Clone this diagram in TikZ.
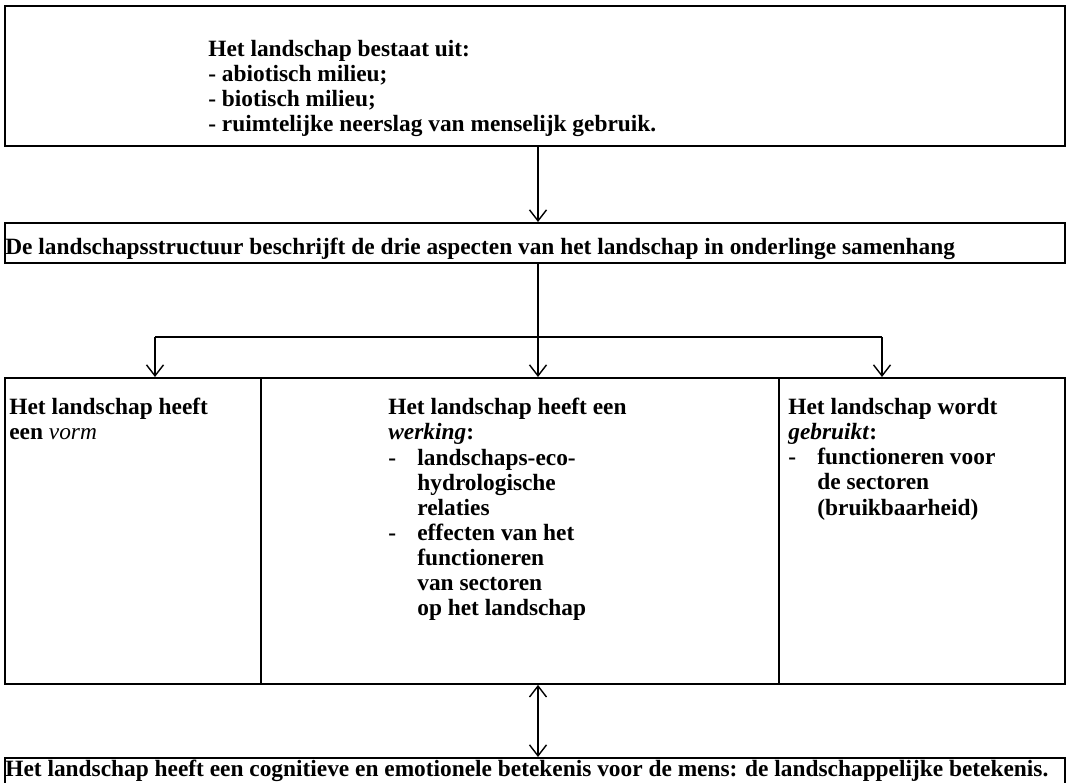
\documentclass[tikz,border=0pt]{standalone}
\usepackage{fontspec}
\setmainfont{Liberation Serif}
\usepackage{tikz}
\usetikzlibrary{arrows.meta, calc, positioning}
\tikzset{
  frame/.style={draw, line width=1.1pt, anchor=north west, inner sep=0pt},
  txt/.style={align=left, inner sep=0pt, font=\fontsize{13.3}{14.3}\selectfont\bfseries},
  arr/.style={line width=0.8pt, -{Straight Barb[length=2.2mm, width=3.4mm]}},
  twoway/.style={line width=0.8pt, {Straight Barb[length=2.2mm, width=3.4mm]}-{Straight Barb[length=2.2mm, width=3.4mm]}},
  link/.style={line width=0.8pt}
}
\newcommand{\itm}{\makebox[0.58cm][l]{-}}
\newcommand{\ind}{\hspace*{0.58cm}}

\begin{document}
\begin{tikzpicture}[x=0.02cm, y=-0.02cm]
  \useasboundingbox (0,0) rectangle (1070,783);

  % boxes
  \node[frame, minimum width=21.2cm, minimum height=2.8cm] (top) at (4,5) {};
  \node[frame, minimum width=21.2cm, minimum height=0.8cm] (struct) at (4,222) {};
  \node[frame, minimum width=5.12cm, minimum height=6.12cm] (vorm) at (4,377) {};
  \node[frame, minimum width=10.36cm, minimum height=6.12cm] (werking) at (260,377) {};
  \node[frame, minimum width=5.72cm, minimum height=6.12cm] (gebruik) at (778,377) {};
  \node[frame, minimum width=21.2cm, minimum height=1.2cm] (betekenis) at (4,757) {};

  % texts
  \node[txt, anchor=north west] (toptext) at (208,40) {Het landschap bestaat uit:\\
    - abiotisch milieu;\\
    - biotisch milieu;\\
    - ruimtelijke neerslag van menselijk gebruik.};
  \node[txt, anchor=west] (structtext) at (5,249) {De landschapsstructuur beschrijft de drie aspecten van het landschap in onderlinge samenhang};
  \node[txt, anchor=north west] (vormtext) at (9,398) {Het landschap heeft\\ een {\mdseries\itshape vorm}};
  \node[txt, anchor=north west] (werkingtext) at (388,398) {Het landschap heeft een\\
    \textit{werking}:\\
    \itm landschaps-eco-\\
    \ind hydrologische\\
    \ind relaties\\
    \itm effecten van het\\
    \ind functioneren\\
    \ind van sectoren\\
    \ind op het landschap};
  \node[txt, anchor=north west] (gebruiktext) at (788,398) {Het landschap wordt\\
    \textit{gebruikt}:\\
    \itm functioneren voor\\
    \ind de sectoren\\
    \ind (bruikbaarheid)};
  \node[txt, anchor=west] (betekenistext) at (5,771) {Het landschap heeft een cognitieve en emotionele betekenis voor de mens: de landschappelijke betekenis.};

  % connectors
  \coordinate (hub) at (538,337);
  \coordinate (hubL) at (155,337);
  \coordinate (hubR) at (882,337);
  \draw[arr] (top.south -| hub) -- (struct.north -| hub);
  \draw[link] (struct.south -| hub) -- (hub);
  \draw[link] (hubL) -- (hubR);
  \draw[arr] (hubL) -- (vorm.north -| hubL);
  \draw[arr] (hub) -- (werking.north -| hub);
  \draw[arr] (hubR) -- (gebruik.north -| hubR);
  \draw[twoway] (werking.south -| hub) -- (betekenis.north -| hub);
\end{tikzpicture}
\end{document}
